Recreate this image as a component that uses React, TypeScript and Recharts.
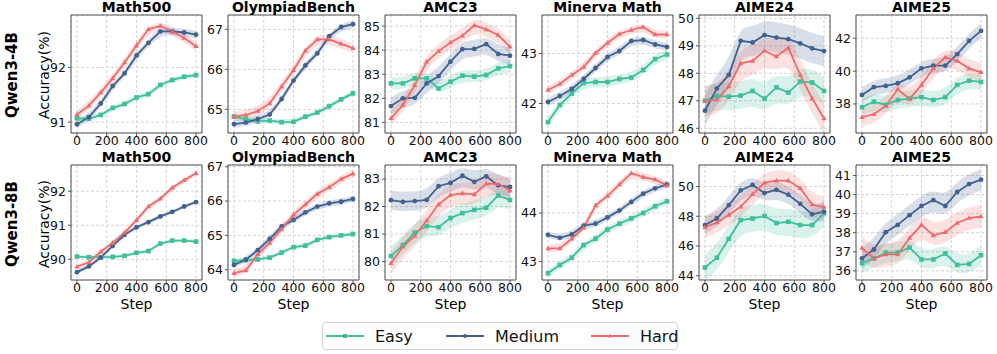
import React from 'react';
import { ComposedChart, Line, Area, XAxis, YAxis, CartesianGrid, ReferenceArea } from 'recharts';

const steps = [0, 80, 160, 240, 320, 400, 480, 560, 640, 720, 800];
const stepTicks = [0, 200, 400, 600, 800];

// Qwen3-4B
const math500_4b_easy = [91.07, 91.06, 91.13, 91.26, 91.33, 91.45, 91.51, 91.68, 91.77, 91.83, 91.86];
const math500_4b_medium = [90.96, 91.09, 91.34, 91.66, 91.89, 92.22, 92.45, 92.66, 92.66, 92.64, 92.6];
const math500_4b_hard = [91.14, 91.3, 91.54, 91.8, 92.09, 92.4, 92.7, 92.76, 92.66, 92.54, 92.39];
const olympiad_4b_easy = [64.82, 64.75, 64.7, 64.72, 64.68, 64.69, 64.82, 64.92, 65.08, 65.25, 65.4];
const olympiad_4b_medium = [64.63, 64.67, 64.76, 64.87, 65.26, 65.72, 66.1, 66.4, 66.83, 67.06, 67.13];
const olympiad_4b_hard = [64.82, 64.86, 64.96, 65.15, 65.57, 65.98, 66.47, 66.75, 66.75, 66.64, 66.53];
const amc_4b_easy = [82.62, 82.62, 82.83, 82.83, 82.41, 82.69, 82.94, 82.9, 82.97, 83.24, 83.34];
const amc_4b_medium = [81.68, 82.0, 82.02, 82.62, 82.92, 83.52, 84.04, 84.05, 84.25, 83.84, 83.77];
const amc_4b_hard = [81.17, 81.72, 82.55, 83.52, 83.96, 84.32, 84.6, 85.03, 84.86, 84.63, 84.14];
const minerva_4b_easy = [41.63, 41.97, 42.2, 42.41, 42.43, 42.43, 42.49, 42.52, 42.67, 42.89, 42.98];
const minerva_4b_medium = [42.03, 42.15, 42.29, 42.49, 42.71, 42.93, 43.05, 43.25, 43.27, 43.18, 43.13];
const minerva_4b_hard = [42.27, 42.39, 42.57, 42.73, 43.01, 43.21, 43.39, 43.47, 43.53, 43.38, 43.38];
const aime24_4b_easy = [47.0, 47.18, 47.15, 47.19, 47.36, 47.08, 47.49, 47.3, 47.7, 47.67, 47.36];
const aime24_4b_medium = [46.64, 47.45, 47.94, 49.18, 49.12, 49.39, 49.3, 49.24, 49.09, 48.91, 48.81];
const aime24_4b_hard = [47.0, 47.05, 47.52, 48.36, 48.45, 48.82, 48.61, 48.93, 47.94, 47.09, 46.36];
const aime25_4b_easy = [37.8, 38.14, 37.94, 38.24, 38.32, 38.41, 38.24, 38.41, 39.16, 39.42, 39.34];
const aime25_4b_medium = [38.55, 39.02, 39.1, 39.26, 39.62, 40.17, 40.34, 40.34, 41.03, 41.84, 42.45];
const aime25_4b_hard = [37.19, 37.37, 37.88, 38.89, 38.3, 39.16, 40.17, 40.84, 40.62, 40.17, 39.93];

// Qwen3-8B
const math500_8b_easy = [90.08, 90.06, 90.06, 90.07, 90.1, 90.19, 90.24, 90.46, 90.55, 90.55, 90.52];
const math500_8b_medium = [89.62, 89.79, 90.05, 90.39, 90.72, 90.94, 91.09, 91.26, 91.39, 91.55, 91.68];
const math500_8b_hard = [89.78, 89.91, 90.22, 90.48, 90.78, 91.15, 91.55, 91.78, 92.1, 92.32, 92.53];
const olympiad_8b_easy = [64.26, 64.28, 64.3, 64.35, 64.5, 64.66, 64.7, 64.87, 64.95, 65.0, 65.04];
const olympiad_8b_medium = [64.14, 64.29, 64.57, 64.9, 65.26, 65.45, 65.67, 65.84, 65.93, 65.98, 66.06];
const olympiad_8b_hard = [63.9, 63.98, 64.45, 64.78, 65.19, 65.6, 65.9, 66.21, 66.4, 66.64, 66.8];
const amc_8b_easy = [80.2, 80.6, 81.05, 81.29, 81.25, 81.58, 81.76, 81.88, 81.96, 82.4, 82.24];
const amc_8b_medium = [82.23, 82.17, 82.2, 82.24, 82.74, 82.86, 83.12, 82.9, 83.1, 82.77, 82.71];
const amc_8b_hard = [79.94, 80.54, 80.93, 81.49, 82.08, 82.42, 82.48, 82.44, 82.83, 82.82, 82.58];
const minerva_8b_easy = [42.76, 42.93, 43.08, 43.34, 43.47, 43.66, 43.78, 43.89, 44.0, 44.14, 44.24];
const minerva_8b_medium = [43.55, 43.49, 43.56, 43.74, 43.78, 43.91, 44.05, 44.23, 44.4, 44.51, 44.59];
const minerva_8b_hard = [43.27, 43.27, 43.47, 43.7, 44.16, 44.35, 44.59, 44.82, 44.74, 44.69, 44.57];
const aime24_8b_easy = [44.55, 45.21, 46.48, 47.74, 47.85, 48.02, 47.54, 47.63, 47.41, 47.41, 48.2];
const aime24_8b_medium = [47.41, 47.85, 48.75, 49.74, 50.11, 49.56, 49.78, 49.45, 48.84, 48.13, 48.31];
const aime24_8b_hard = [47.25, 47.58, 48.09, 48.64, 49.49, 50.26, 50.4, 50.4, 49.89, 48.79, 48.62];
const aime25_8b_easy = [36.4, 36.65, 36.96, 36.96, 37.22, 36.6, 36.6, 36.91, 36.31, 36.36, 36.82];
const aime25_8b_medium = [36.65, 37.12, 38.03, 38.41, 38.92, 39.4, 39.71, 39.4, 40.14, 40.55, 40.78];
const aime25_8b_hard = [37.2, 36.65, 36.86, 36.86, 37.72, 38.41, 37.86, 38.03, 38.51, 38.77, 38.85];

// shaded band half-widths (easy, medium, hard)
const math500_4b_band = [0.05, 0.07, 0.08];
const olympiad_4b_band = [0.07, 0.09, 0.12];
const amc_4b_band = [0.25, 0.35, 0.3];
const minerva_4b_band = [0.1, 0.08, 0.08];
const aime24_4b_band = [0.5, 0.55, 0.55];
const aime25_4b_band = [0.5, 0.45, 0.55];
const math500_8b_band = [0.05, 0.06, 0.08];
const olympiad_8b_band = [0.07, 0.09, 0.12];
const amc_8b_band = [0.35, 0.35, 0.4];
const minerva_8b_band = [0.08, 0.07, 0.08];
const aime24_8b_band = [0.9, 0.6, 0.7];
const aime25_8b_band = [0.5, 0.55, 0.6];

const titles = ['Math500', 'OlympiadBench', 'AMC23', 'Minerva Math', 'AIME24', 'AIME25'];
const rowLabels = ['Qwen3-4B', 'Qwen3-8B'];

const EASY = '#3fbf9b';
const MEDIUM = '#41618f';
const HARD = '#ef6b6b';

const FONT = '"DejaVu Sans", sans-serif';
const PLOT_W = 131;
const colLefts = [71, 228, 385, 542, 699, 856];
const rowBoxes = [
  { top: 15, h: 118 },
  { top: 165, h: 115 },
];
const YW = 40;
const XH = 22;
const MT = 10;
const MR = 14;

const panels4b = [
  { easy: math500_4b_easy, medium: math500_4b_medium, hard: math500_4b_hard, band: math500_4b_band, domain: [90.8, 92.96], ticks: [91, 92] },
  { easy: olympiad_4b_easy, medium: olympiad_4b_medium, hard: olympiad_4b_hard, band: olympiad_4b_band, domain: [64.41, 67.36], ticks: [65, 66, 67] },
  { easy: amc_4b_easy, medium: amc_4b_medium, hard: amc_4b_hard, band: amc_4b_band, domain: [80.56, 85.46], ticks: [81, 82, 83, 84, 85] },
  { easy: minerva_4b_easy, medium: minerva_4b_medium, hard: minerva_4b_hard, band: minerva_4b_band, domain: [41.41, 43.77], ticks: [42, 43] },
  { easy: aime24_4b_easy, medium: aime24_4b_medium, hard: aime24_4b_hard, band: aime24_4b_band, domain: [45.83, 50.12], ticks: [46, 47, 48, 49, 50] },
  { easy: aime25_4b_easy, medium: aime25_4b_medium, hard: aime25_4b_hard, band: aime25_4b_band, domain: [36.23, 43.42], ticks: [38, 40, 42] },
];

const panels8b = [
  { easy: math500_8b_easy, medium: math500_8b_medium, hard: math500_8b_hard, band: math500_8b_band, domain: [89.39, 92.77], ticks: [90, 91, 92] },
  { easy: olympiad_8b_easy, medium: olympiad_8b_medium, hard: olympiad_8b_hard, band: olympiad_8b_band, domain: [63.7, 67.05], ticks: [64, 65, 66, 67] },
  { easy: amc_8b_easy, medium: amc_8b_medium, hard: amc_8b_hard, band: amc_8b_band, domain: [79.33, 83.51], ticks: [80, 81, 82, 83] },
  { easy: minerva_8b_easy, medium: minerva_8b_medium, hard: minerva_8b_hard, band: minerva_8b_band, domain: [42.62, 44.99], ticks: [43, 44] },
  { easy: aime24_8b_easy, medium: aime24_8b_medium, hard: aime24_8b_hard, band: aime24_8b_band, domain: [43.71, 51.45], ticks: [44, 46, 48, 50] },
  { easy: aime25_8b_easy, medium: aime25_8b_medium, hard: aime25_8b_hard, band: aime25_8b_band, domain: [35.52, 41.55], ticks: [36, 37, 38, 39, 40, 41] },
];

const squareDot = (color: string) => (props: any) => {
  const { cx, cy, index } = props;
  if (cx == null || cy == null) return <g key={index} />;
  return <rect key={index} x={cx - 2.3} y={cy - 2.3} width={4.6} height={4.6} fill={color} />;
};

const circleDot = (color: string) => (props: any) => {
  const { cx, cy, index } = props;
  if (cx == null || cy == null) return <g key={index} />;
  return <circle key={index} cx={cx} cy={cy} r={2.4} fill={color} />;
};

const triangleDot = (color: string) => (props: any) => {
  const { cx, cy, index } = props;
  if (cx == null || cy == null) return <g key={index} />;
  return (
    <polygon
      key={index}
      points={`${cx},${cy - 2.8} ${cx - 2.6},${cy + 1.8} ${cx + 2.6},${cy + 1.8}`}
      fill={color}
    />
  );
};

interface PanelProps {
  easy: number[];
  medium: number[];
  hard: number[];
  band: number[];
  domain: number[];
  ticks: number[];
  left: number;
  top: number;
  h: number;
}

const Panel: React.FC<PanelProps> = ({ easy, medium, hard, band, domain, ticks, left, top, h }) => {
  const data = steps.map((s, i) => ({
    step: s,
    easy: easy[i],
    medium: medium[i],
    hard: hard[i],
    easyBand: [easy[i] - band[0], easy[i] + band[0]],
    mediumBand: [medium[i] - band[1], medium[i] + band[1]],
    hardBand: [hard[i] - band[2], hard[i] + band[2]],
  }));

  return (
    <div style={{ position: 'absolute', left: left - YW, top: top - MT }}>
      <ComposedChart
        width={YW + PLOT_W + MR}
        height={MT + h + XH}
        data={data}
        margin={{ top: MT, right: MR, left: 0, bottom: 0 }}
      >
        <CartesianGrid stroke="#d4d4d4" strokeDasharray="3 2" />
        <XAxis
          dataKey="step"
          type="number"
          domain={[-40, 840]}
          ticks={stepTicks}
          interval={0}
          height={XH}
          tickSize={3}
          tickMargin={0}
          axisLine={false}
          tickLine={{ stroke: '#555' }}
          tick={{ fontSize: 12.5, fill: '#111' }}
          allowDataOverflow
        />
        <YAxis
          type="number"
          domain={domain}
          ticks={ticks}
          interval={0}
          width={YW}
          tickSize={3}
          tickMargin={2}
          axisLine={false}
          tickLine={{ stroke: '#555' }}
          tick={{ fontSize: 12.5, fill: '#111' }}
          allowDataOverflow
        />
        <Area type="basis" dataKey="easyBand" stroke="none" fill={EASY} fillOpacity={0.2} dot={false} activeDot={false} isAnimationActive={false} />
        <Area type="basis" dataKey="mediumBand" stroke="none" fill={MEDIUM} fillOpacity={0.2} dot={false} activeDot={false} isAnimationActive={false} />
        <Area type="basis" dataKey="hardBand" stroke="none" fill={HARD} fillOpacity={0.2} dot={false} activeDot={false} isAnimationActive={false} />
        <Line type="linear" dataKey="easy" stroke={EASY} strokeWidth={1.8} dot={squareDot(EASY)} activeDot={false} isAnimationActive={false} />
        <Line type="linear" dataKey="medium" stroke={MEDIUM} strokeWidth={1.8} dot={circleDot(MEDIUM)} activeDot={false} isAnimationActive={false} />
        <Line type="linear" dataKey="hard" stroke={HARD} strokeWidth={1.8} dot={triangleDot(HARD)} activeDot={false} isAnimationActive={false} />
        <ReferenceArea
          x1={-40}
          x2={840}
          y1={domain[0]}
          y2={domain[1]}
          fill="none"
          fillOpacity={0}
          stroke="#555"
          strokeWidth={1}
          ifOverflow="visible"
        />
      </ComposedChart>
    </div>
  );
};

const LegendItem: React.FC<{ color: string; label: string; marker: string; left: number }> = ({ color, label, marker, left }) => (
  <div style={{ position: 'absolute', left, top: 0, height: 26, display: 'flex', alignItems: 'center' }}>
    <svg width={38} height={10}>
      <line x1={0} y1={5} x2={38} y2={5} stroke={color} strokeWidth={2} />
      {marker === 'square' && <rect x={17} y={3} width={4} height={4} fill={color} />}
      {marker === 'circle' && <circle cx={19} cy={5} r={2} fill={color} />}
      {marker === 'triangle' && <polygon points="19,2.5 16.8,6.5 21.2,6.5" fill={color} />}
    </svg>
    <span style={{ marginLeft: 11, fontSize: 16, color: '#111' }}>{label}</span>
  </div>
);

const App: React.FC = () => {
  const rows = [panels4b, panels8b];
  return (
    <div style={{ position: 'absolute', left: 0, top: 0, width: 997, height: 354, background: '#fff', fontFamily: FONT, overflow: 'hidden' }}>
      {rows.map((panels, r) => (
        <React.Fragment key={r}>
          {/* row label */}
          <div
            style={{
              position: 'absolute',
              left: 12,
              top: rowBoxes[r].top + rowBoxes[r].h / 2 + 1,
              transform: 'translate(-50%, -50%) rotate(-90deg)',
              fontWeight: 'bold',
              fontSize: 15,
              whiteSpace: 'nowrap',
            }}
          >
            {rowLabels[r]}
          </div>
          <div
            style={{
              position: 'absolute',
              left: 44,
              top: rowBoxes[r].top + rowBoxes[r].h / 2 + 1,
              transform: 'translate(-50%, -50%) rotate(-90deg)',
              fontSize: 14,
              whiteSpace: 'nowrap',
            }}
          >
            Accuracy(%)
          </div>
          {panels.map((p, c) => (
            <React.Fragment key={c}>
              <Panel {...p} left={colLefts[c]} top={rowBoxes[r].top} h={rowBoxes[r].h} />
              <div
                style={{
                  position: 'absolute',
                  left: colLefts[c],
                  width: PLOT_W,
                  top: rowBoxes[r].top - 16,
                  lineHeight: '16px',
                  textAlign: 'center',
                  fontWeight: 'bold',
                  fontSize: 14,
                  whiteSpace: 'nowrap',
                }}
              >
                {titles[c]}
              </div>
              {r === 1 && (
                <div
                  style={{
                    position: 'absolute',
                    left: colLefts[c],
                    width: PLOT_W,
                    top: 297,
                    lineHeight: '14px',
                    textAlign: 'center',
                    fontSize: 14,
                  }}
                >
                  Step
                </div>
              )}
            </React.Fragment>
          ))}
        </React.Fragment>
      ))}
      <div
        style={{
          position: 'absolute',
          left: 322,
          top: 322,
          width: 356,
          height: 28,
          border: '1px solid #d6d6d6',
          borderRadius: 4,
          boxSizing: 'border-box',
        }}
      >
        <LegendItem color={EASY} label="Easy" marker="square" left={3} />
        <LegendItem color={MEDIUM} label="Medium" marker="circle" left={123} />
        <LegendItem color={HARD} label="Hard" marker="triangle" left={268} />
      </div>
    </div>
  );
};

export default App;
